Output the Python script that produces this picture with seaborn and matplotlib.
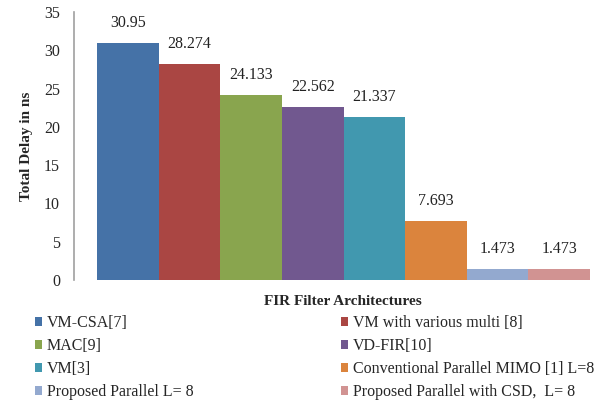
import matplotlib
matplotlib.use("Agg")
import matplotlib.pyplot as plt
from matplotlib.patches import Patch
import seaborn as sns
import pandas as pd

architectures = [
    "VM-CSA[7]",
    "VM with various multi [8]",
    "MAC[9]",
    "VD-FIR[10]",
    "VM[3]",
    "Conventional Parallel MIMO [1] L=8",
    "Proposed Parallel L= 8",
    "Proposed Parallel with CSD,  L= 8",
]
delays = [30.95, 28.274, 24.133, 22.562, 21.337, 7.693, 1.473, 1.473]
delay_labels = ["30.95", "28.274", "24.133", "22.562", "21.337", "7.693", "1.473", "1.473"]
colors = ["#4572A7", "#AA4643", "#89A54E", "#71588F",
          "#4198AF", "#DB843D", "#93A9CF", "#D19392"]
y_ticks = [0, 5, 10, 15, 20, 25, 30, 35]

sns.set_style("white")
plt.rcParams["font.family"] = ["Liberation Serif", "DejaVu Serif"]

df = pd.DataFrame({"arch": architectures, "delay": delays})

fig = plt.figure(figsize=(6.06, 4.01), dpi=100)
ax = fig.add_axes([74 / 606, (401 - 280) / 401, 526 / 606, 268 / 401])

sns.barplot(data=df, x="arch", y="delay", hue="arch", palette=colors,
            width=1.0, dodge=False, legend=False, ax=ax, saturation=1,
            linewidth=0, edgecolor="none")

for i, (v, lab) in enumerate(zip(delays, delay_labels)):
    ax.text(i, v + 2.6, lab, ha="center", va="center", fontsize=11.5, color="#222222")

ax.set_ylim(0, 35)
ax.set_xlim(-0.873, 7.66)
ax.set_yticks(y_ticks)
ax.set_yticklabels([str(t) for t in y_ticks], fontsize=11.5)
ax.set_xticks([])
ax.tick_params(axis="y", length=0, pad=10)
for s in ["top", "right", "bottom"]:
    ax.spines[s].set_visible(False)
ax.spines["left"].set_color("#A0A0A0")
ax.spines["left"].set_linewidth(1.2)

ax.set_xlabel("FIR Filter Architectures", fontsize=11, fontweight="bold")
ax.xaxis.set_label_coords((343 - 74) / 526, -15 / 268)
ax.set_ylabel("Total Delay in ns", fontsize=11, fontweight="bold", labelpad=8)

# legend: two columns, filled row by row
handles = [Patch(facecolor=c, edgecolor="none") for c in colors]
order = [0, 2, 4, 6, 1, 3, 5, 7]
fig.legend([handles[i] for i in order], [architectures[i] for i in order],
           ncol=2, loc="upper left", bbox_to_anchor=(35 / 606, 1 - 315 / 401),
           frameon=False, fontsize=11.5, handlelength=0.45, handleheight=0.45,
           handletextpad=0.3, columnspacing=9.2, labelspacing=0.44,
           borderaxespad=0, borderpad=0)

fig.savefig("out.png", dpi=100)
